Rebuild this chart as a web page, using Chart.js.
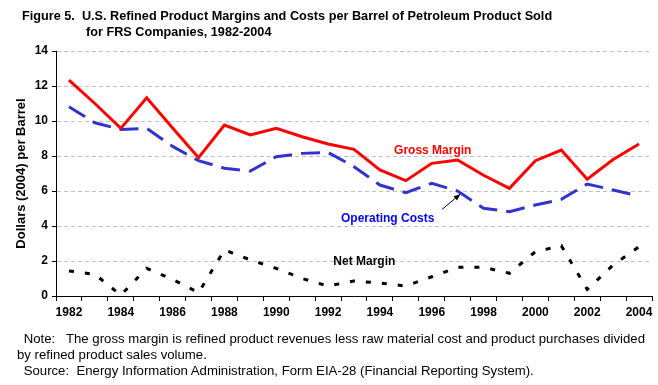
<!DOCTYPE html>
<html>
<head>
<meta charset="utf-8">
<script src="https://cdn.jsdelivr.net/npm/chart.js@4/dist/chart.umd.min.js"></script>
<style>
  body { margin: 0; background: #fff; font-family: "Liberation Sans", Arial, sans-serif; }
  #wrap { position: relative; width: 658px; height: 385px; overflow: hidden; }
  #c { position: absolute; left: 0; top: 0; }
  .t { position: absolute; white-space: pre; color: #000; }
  .titulo { font-weight: bold; font-size: 12.7px; }
  .nota { font-size: 13.2px; }
</style>
</head>
<body>
<div id="wrap">
  <canvas id="c" width="658" height="385"></canvas>
  <div class="t titulo" style="left:22px; top:9px;">Figure 5.  U.S. Refined Product Margins and Costs per Barrel of Petroleum Product Sold</div>
  <div class="t titulo" style="left:86px; top:25px;">for FRS Companies, 1982-2004</div>
  <div class="t nota" style="left:20px; top:331px;"> Note:   The gross margin is refined product revenues less raw material cost and product purchases divided</div>
  <div class="t nota" style="left:17px; top:347px;">by refined product sales volume.</div>
  <div class="t nota" style="left:20px; top:363px;"> Source:  Energy Information Administration, Form EIA-28 (Financial Reporting System).</div>
</div>
<script>
var anos = ['1982', '1983', '1984', '1985', '1986', '1987', '1988', '1989', '1990', '1991', '1992', '1993',
            '1994', '1995', '1996', '1997', '1998', '1999', '2000', '2001', '2002', '2003', '2004'];

var margemBruta = [12.34, 11.0, 9.58, 11.33, 9.6, 7.9, 9.77, 9.2, 9.58, 9.1, 8.69, 8.38,
                   7.2, 6.59, 7.58, 7.77, 6.9, 6.15, 7.73, 8.34, 6.67, 7.8, 8.69];

var custosOperacionais = [10.82, 9.9, 9.52, 9.58, 8.55, 7.73, 7.3, 7.14, 7.96, 8.15, 8.2, 7.39,
                          6.34, 5.9, 6.44, 6.0, 5.01, 4.82, 5.2, 5.52, 6.4, 6.06, 5.71];

var margemLiquida = [1.43, 1.24, 0.05, 1.58, 0.95, 0.19, 2.63, 2.06, 1.58, 1.0, 0.57, 0.86,
                     0.74, 0.57, 1.1, 1.64, 1.64, 1.3, 2.53, 2.87, 0.38, 1.77, 2.82];

var yTicks = [0, 2, 4, 6, 8, 10, 12, 14];

var fonte = "'Liberation Sans', Arial, sans-serif";

// rotulos dentro do grafico e a seta
var rotulos = {
    id: 'rotulos',
    afterDatasetsDraw: function (chart) {
        var ctx = chart.ctx;
        var x = chart.scales.x;
        var y = chart.scales.y;
        ctx.save();
        ctx.font = 'bold 12px ' + fonte;
        ctx.textAlign = 'center';
        ctx.textBaseline = 'middle';

        ctx.fillStyle = '#ff0000';
        ctx.fillText('Gross Margin', (x.getPixelForValue(13) + x.getPixelForValue(15)) / 2 + 1, y.getPixelForValue(8.3));

        ctx.fillStyle = '#0000ff';
        ctx.fillText('Operating Costs', x.getPixelForValue(12.3), y.getPixelForValue(4.4));

        ctx.fillStyle = '#000000';
        ctx.fillText('Net Margin', x.getPixelForValue(11.4), y.getPixelForValue(1.95));

        // seta apontando para custos operacionais em 1997
        var x1 = x.getPixelForValue(14.4), y1 = y.getPixelForValue(4.95);
        var x2 = x.getPixelForValue(15.1), y2 = y.getPixelForValue(5.82);
        ctx.strokeStyle = '#000';
        ctx.lineWidth = 1;
        ctx.beginPath();
        ctx.moveTo(x1, y1);
        ctx.lineTo(x2, y2);
        ctx.stroke();
        var ang = Math.atan2(y2 - y1, x2 - x1);
        ctx.beginPath();
        ctx.moveTo(x2, y2);
        ctx.lineTo(x2 - 7 * Math.cos(ang - 0.4), y2 - 7 * Math.sin(ang - 0.4));
        ctx.lineTo(x2 - 7 * Math.cos(ang + 0.4), y2 - 7 * Math.sin(ang + 0.4));
        ctx.closePath();
        ctx.fillStyle = '#000';
        ctx.fill();
        ctx.restore();
    }
};

new Chart(document.getElementById('c'), {
    type: 'line',
    data: {
        labels: anos,
        datasets: [
            {
                label: 'Gross Margin',
                data: margemBruta,
                borderColor: '#ff0000',
                borderWidth: 3,
                pointRadius: 0,
                fill: false
            },
            {
                label: 'Operating Costs',
                data: custosOperacionais,
                borderColor: '#3333cc',
                borderWidth: 3,
                borderDash: [19, 9],
                pointRadius: 0,
                fill: false
            },
            {
                label: 'Net Margin',
                data: margemLiquida,
                borderColor: '#000000',
                borderWidth: 3,
                borderDash: [5, 11],
                pointRadius: 0,
                fill: false
            }
        ]
    },
    plugins: [rotulos],
    options: {
        responsive: false,
        animation: false,
        layout: { padding: { left: 0, right: 6, top: 51, bottom: 59 } },
        plugins: {
            legend: { display: false },
            tooltip: { enabled: false }
        },
        scales: {
            x: {
                type: 'category',
                offset: true,
                afterFit: function (s) { s.height = 30; },
                grid: {
                    offset: true,
                    drawOnChartArea: false,
                    drawTicks: true,
                    tickLength: 5,
                    tickColor: '#000'
                },
                border: { color: '#000', width: 1 },
                ticks: {
                    autoSkip: false,
                    maxRotation: 0,
                    color: '#000',
                    font: { family: fonte, size: 12, weight: 'bold' },
                    padding: 4,
                    callback: function (v, i) {
                        return i % 2 === 0 ? anos[i] : '';
                    }
                }
            },
            y: {
                min: 0,
                max: 14,
                afterFit: function (s) { s.width = 56; },
                afterBuildTicks: function (s) {
                    s.ticks = yTicks.map(function (v) { return { value: v }; });
                },
                grid: {
                    color: function (c) { return c.tick && c.tick.value === 0 ? 'rgba(0,0,0,0)' : '#c0c0c0'; },
                    lineWidth: 1,
                    drawTicks: true,
                    tickLength: 4,
                    tickColor: '#000'
                },
                border: { color: '#000', width: 1, dash: [4, 3] },
                ticks: {
                    color: '#000',
                    font: { family: fonte, size: 12, weight: 'bold' },
                    padding: 4
                },
                title: {
                    display: true,
                    text: 'Dollars (2004) per Barrel',
                    color: '#000',
                    font: { family: fonte, size: 13, weight: 'bold' },
                    padding: { top: 14, bottom: 0 }
                }
            }
        }
    }
});
</script>
</body>
</html>
